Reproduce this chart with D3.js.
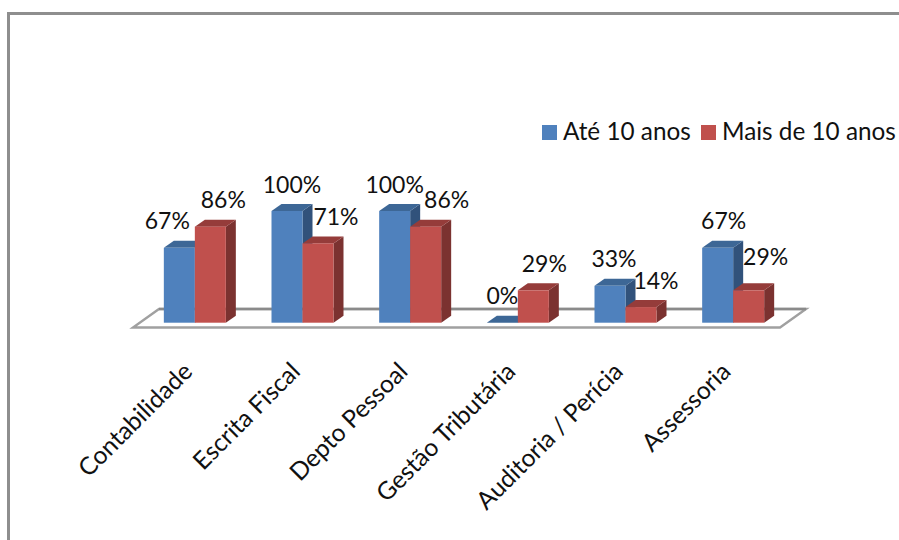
<!DOCTYPE html>
<html><head><meta charset="utf-8">
<script src="https://cdn.jsdelivr.net/npm/d3@7/dist/d3.min.js"></script>
<style>html,body{margin:0;padding:0;background:#fff}svg{display:block}text{font-family:Lato,"Open Sans",sans-serif;fill:#111}</style>
</head><body><svg id="c" width="899" height="540"></svg>
<script>
const categories = ["Contabilidade","Escrita Fiscal","Depto Pessoal","Gestão Tributária","Auditoria / Perícia","Assessoria"];
const seriesNames = ["Até 10 anos","Mais de 10 anos"];
const ate10 = [0.67,1,1,0,0.33,0.67];
const mais10 = [0.86,0.71,0.86,0.29,0.14,0.29];
// hand placement of the data labels, as the source chart has them
const ateNudgeX = [-12,5,0,0,4,6], ateNudgeY = [0,0,0,0,0,0];
const maisNudgeX = [13,18,21,11,15,17], maisNudgeY = [0,0,0,0,0,-7];

const svg = d3.select("#c");
const depthX = 10, depthY = 7, fsData = 23, fsLegend = 24.3, fsAxis = 24.6;
const x0 = d3.scaleBand().domain(categories).range([141,787]);
const x1 = d3.scaleBand().domain([0,1]).range([x0.bandwidth()/2-31, x0.bandwidth()/2+31]);
const y = d3.scaleLinear().domain([0,1]).range([322.7,211]);
const fmt = d3.format(".0%");
const palette = [
 {front:"#4f81bd",top:"#3d6796",side:"#31527b"},
 {front:"#c0504d",top:"#953c3a",side:"#7b3230"}];

// outer frame
svg.append("path").attr("d","M8.5,540V13.5H899").attr("fill","none").attr("stroke","#8e8e8e").attr("stroke-width",3);

// floor
const fl = 133, fr = 780, ff = 327.5, bb = 309, fd = 26;
svg.append("path").attr("d",`M${fl},${ff}H${fr}L${fr+fd},${bb}H${fl+fd}Z`)
  .attr("fill","#fff").attr("stroke","#a0a0a0").attr("stroke-width",2.4);
svg.append("path").attr("d",`M${fl+fd},${bb}H${fr+fd}`).attr("stroke","#8a8a8a").attr("stroke-width",2.4).attr("fill","none");

const rows = categories.map((c,i)=>({c,i,vals:[ate10[i],mais10[i]]}));
const groups = svg.selectAll("g.grp").data(rows).join("g").attr("class","grp")
  .attr("transform",d=>`translate(${x0(d.c)},0)`);
const bars = groups.selectAll("g.bar").data(d=>d.vals.map((v,s)=>({v,s}))).join("g").attr("class","bar");
bars.each(function(d){
  const g = d3.select(this), X = x1(d.s), w = x1.bandwidth(), T = y(d.v), B = y(0), p = palette[d.s];
  g.append("path").attr("fill",p.side).attr("d",`M${X+w},${T}l${depthX},${-depthY}V${B-depthY}L${X+w},${B}Z`);
  g.append("path").attr("fill",p.top).attr("d",`M${X},${T}l${depthX},${-depthY}h${w}l${-depthX},${depthY}Z`);
  g.append("rect").attr("x",X).attr("y",T).attr("width",w).attr("height",B-T).attr("fill",p.front);
});
// labels on top of all bars
groups.each(function(d){
  const g = d3.select(this);
  d.vals.forEach((v,s)=>{
    const nx = (s?maisNudgeX:ateNudgeX)[d.i], ny = (s?maisNudgeY:ateNudgeY)[d.i];
    g.append("text").attr("x",x1(s)+x1.bandwidth()/2+nx).attr("y",y(v)-18.5+ny)
     .attr("text-anchor","middle").attr("font-size",fsData).text(fmt(v));
  });
});

// category axis
const ax = svg.append("g").attr("transform","translate(0,345)")
  .call(d3.axisBottom(x0).tickSize(0).tickPadding(0));
ax.select(".domain").remove();
ax.selectAll("text").attr("font-size",fsAxis).attr("text-anchor","end").attr("fill","#111")
  .style("font-family","Lato,sans-serif")
  .attr("dy",null).attr("y",0).attr("transform","translate(-1,28) rotate(-45)");

// legend
const lg = svg.append("g").attr("transform","translate(0,140)");
const lgX = d3.scaleOrdinal().domain(seriesNames).range([542,701]);
seriesNames.forEach((n,i)=>{
  lg.append("rect").attr("x",lgX(n)).attr("y",-15).attr("width",15).attr("height",15).attr("fill",palette[i].front);
  lg.append("text").attr("x",lgX(n)+21).attr("y",0).attr("font-size",fsLegend).text(n);
});
</script></body></html>
